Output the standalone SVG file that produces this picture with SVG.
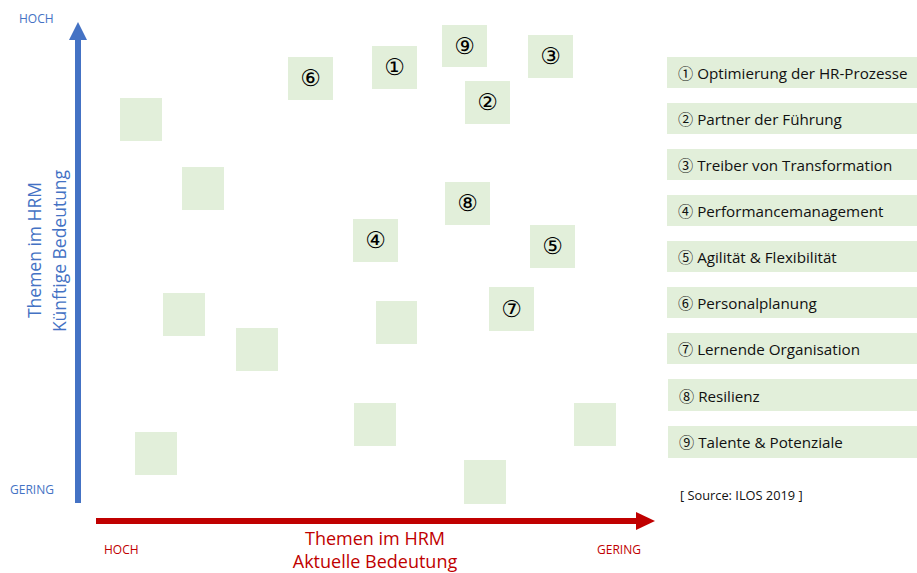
<svg xmlns="http://www.w3.org/2000/svg" width="917" height="573" viewBox="0 0 917 573">
<style>
.box{fill:#E2EFDA}
.num{font-family:"DejaVu Sans","Noto Sans CJK JP",sans-serif;font-size:23px;fill:#000;text-anchor:middle}
.leg{font-family:"Open Sans","Liberation Sans","Noto Sans CJK JP",sans-serif;font-size:15.2px;fill:#111}
.blue{font-family:"Open Sans","Liberation Sans",sans-serif;fill:#4472C4}
.red{font-family:"Open Sans","Liberation Sans",sans-serif;fill:#C00000}
</style>
<rect width="917" height="573" fill="#fff"/>
<g id="axes">
<rect x="75" y="38" width="6" height="465" fill="#4472C4"/>
<polygon points="78,22 69,40 87,40" fill="#4472C4"/>
<rect x="96" y="518" width="542" height="6" fill="#C00000"/>
<polygon points="655,521 636,512 636,530" fill="#C00000"/>
</g>
<g id="axis-labels">
<text class="blue" x="19" y="23" font-size="12">HOCH</text>
<text class="blue" x="10" y="494" font-size="12">GERING</text>
<text class="blue" font-size="17.5" text-anchor="middle" transform="translate(41,250) rotate(-90)">Themen im HRM</text>
<text class="blue" font-size="17.5" text-anchor="middle" transform="translate(66,251) rotate(-90)">Künftige Bedeutung</text>
<text class="red" x="104" y="554" font-size="12">HOCH</text>
<text class="red" x="597" y="554" font-size="12">GERING</text>
<text class="red" x="375" y="545" font-size="18" text-anchor="middle">Themen im HRM</text>
<text class="red" x="375" y="568" font-size="18" text-anchor="middle">Aktuelle Bedeutung</text>
</g>
<g id="n6"><rect class="box" x="288" y="57" width="45" height="43"/><text class="num" x="310.5" y="86">⑥</text></g>
<g id="n1"><rect class="box" x="372" y="46" width="45" height="43"/><text class="num" x="394.5" y="75">①</text></g>
<g id="n9"><rect class="box" x="442" y="25" width="45" height="42"/><text class="num" x="464.5" y="54">⑨</text></g>
<g id="n3"><rect class="box" x="528" y="35" width="45" height="43"/><text class="num" x="550.5" y="64">③</text></g>
<g id="n2"><rect class="box" x="465" y="81" width="45" height="43"/><text class="num" x="487.5" y="110">②</text></g>
<g id="n8"><rect class="box" x="445" y="182" width="45" height="43"/><text class="num" x="467.5" y="211">⑧</text></g>
<g id="n4"><rect class="box" x="353" y="219" width="45" height="43"/><text class="num" x="375.5" y="248">④</text></g>
<g id="n5"><rect class="box" x="530" y="225" width="45" height="43"/><text class="num" x="552.5" y="254">⑤</text></g>
<g id="n7"><rect class="box" x="489" y="287" width="45" height="44"/><text class="num" x="511.5" y="317">⑦</text></g>
<g id="b1"><rect class="box" x="120" y="98" width="42" height="43"/></g>
<g id="b2"><rect class="box" x="182" y="167" width="42" height="43"/></g>
<g id="b3"><rect class="box" x="163" y="293" width="42" height="43"/></g>
<g id="b4"><rect class="box" x="236" y="328" width="42" height="43"/></g>
<g id="b5"><rect class="box" x="376" y="301" width="41" height="43"/></g>
<g id="b6"><rect class="box" x="354" y="403" width="42" height="43"/></g>
<g id="b7"><rect class="box" x="574" y="403" width="42" height="43"/></g>
<g id="b8"><rect class="box" x="135" y="432" width="42" height="43"/></g>
<g id="b9"><rect class="box" x="464" y="460" width="42" height="44"/></g>
<g id="legend">
<g id="l1"><rect class="box" x="667" y="57" width="250" height="31"/><text class="leg" x="678" y="79">① Optimierung der HR-Prozesse</text></g>
<g id="l2"><rect class="box" x="667" y="103" width="250" height="31"/><text class="leg" x="678" y="125">② Partner der Führung</text></g>
<g id="l3"><rect class="box" x="667" y="149" width="250" height="31"/><text class="leg" x="678" y="171">③ Treiber von Transformation</text></g>
<g id="l4"><rect class="box" x="667" y="195" width="250" height="31"/><text class="leg" x="678" y="217">④ Performancemanagement</text></g>
<g id="l5"><rect class="box" x="667" y="241" width="250" height="31"/><text class="leg" x="678" y="263">⑤ Agilität &amp; Flexibilität</text></g>
<g id="l6"><rect class="box" x="667" y="287" width="250" height="31"/><text class="leg" x="678" y="309">⑥ Personalplanung</text></g>
<g id="l7"><rect class="box" x="667" y="333" width="250" height="31"/><text class="leg" x="678" y="355">⑦ Lernende Organisation</text></g>
<g id="l8"><rect class="box" x="668" y="379" width="249" height="32"/><text class="leg" x="679" y="402">⑧ Resilienz</text></g>
<g id="l9"><rect class="box" x="668" y="426" width="249" height="32"/><text class="leg" x="679" y="448">⑨ Talente &amp; Potenziale</text></g>
<text x="680" y="500" font-family="Open Sans, Liberation Sans, sans-serif" font-size="12.8" fill="#111">[ Source: ILOS 2019 ]</text>
</g>
</svg>
